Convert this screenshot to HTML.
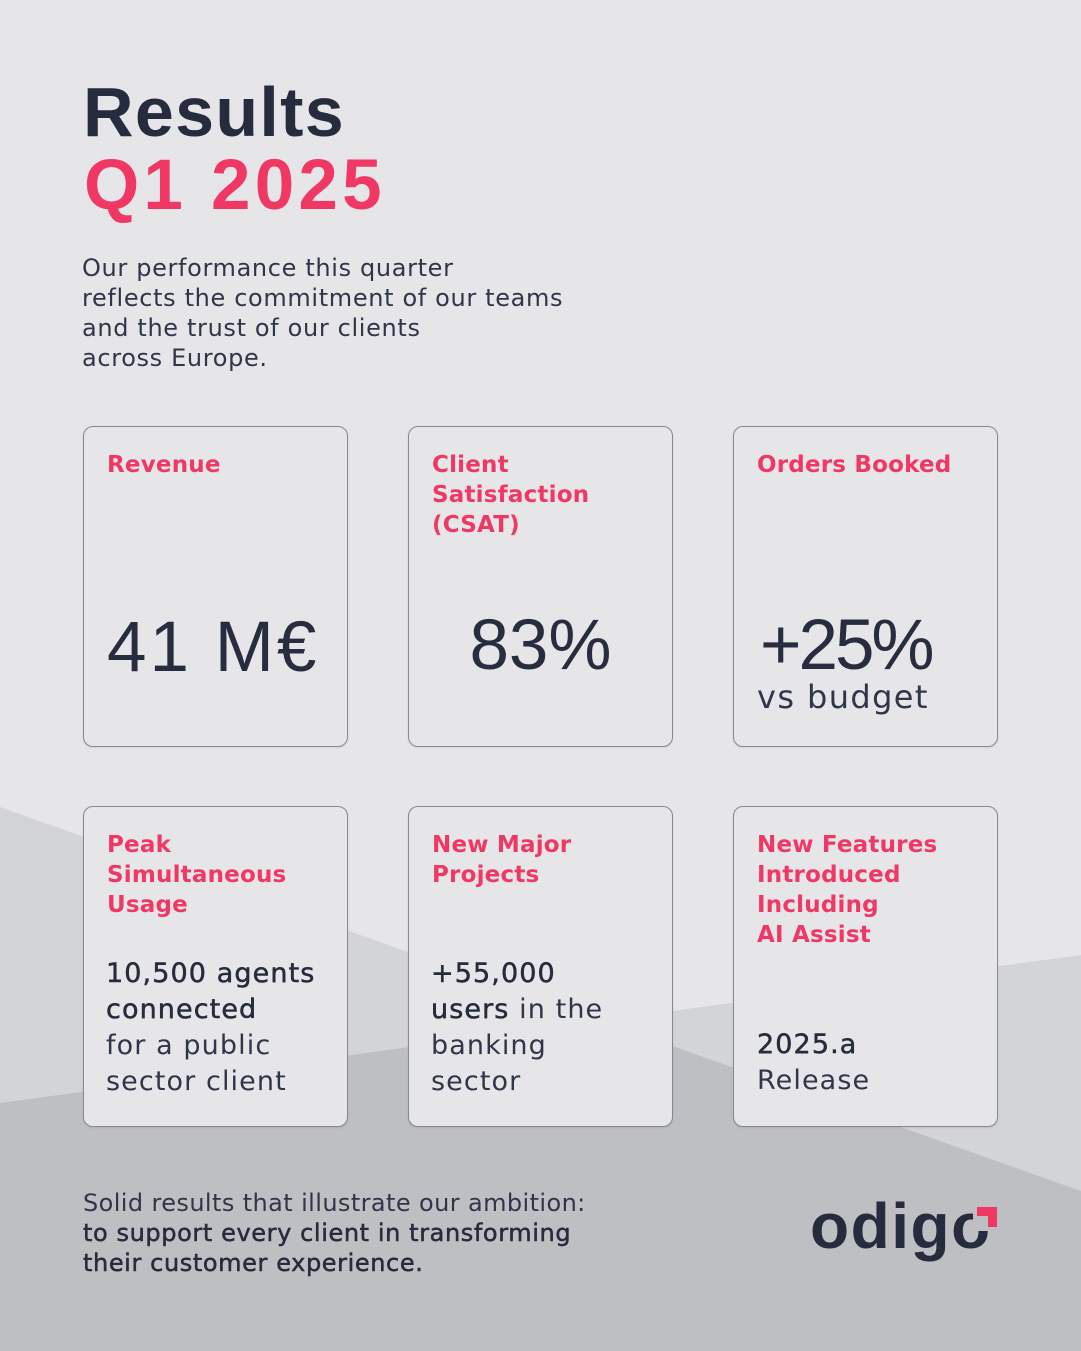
<!DOCTYPE html>
<html><head><meta charset="utf-8"><style>
*{margin:0;padding:0;box-sizing:border-box}
html,body{width:1081px;height:1351px;overflow:hidden;background:#e6e6e8}
body{position:relative;font-family:"DejaVu Sans","Liberation Sans",sans-serif;color:#262b3d}
.bg{position:absolute;left:0;top:0}
.a{position:absolute;white-space:nowrap}
.card{position:absolute;width:265px;height:321px;border:1px solid #858896;border-radius:10px;background:#e6e6e9;box-shadow:0 1px 2px rgba(0,0,0,0.08)}
.t{position:absolute;white-space:nowrap;font-family:"DejaVu Sans",sans-serif;font-weight:bold;font-size:23px;line-height:30px;color:#ef3864;letter-spacing:0.2px}
.big{position:absolute;white-space:nowrap;font-family:"Liberation Sans",sans-serif;font-size:71px;line-height:71px;color:#272c3e}
.v{position:absolute;white-space:nowrap;font-family:"DejaVu Sans",sans-serif;font-size:27px;line-height:36px;color:#30364a;letter-spacing:1.1px}
.m{-webkit-text-stroke:0.5px #262b3d;color:#262b3d}
.p{font-family:"DejaVu Sans",sans-serif;font-size:24px;line-height:30px;letter-spacing:0.65px;color:#30364a}
</style></head><body>
<svg class="bg" width="1081" height="1351" viewBox="0 0 1081 1351">
<rect x="0" y="0" width="1081" height="1351" fill="#e6e6e8"/>
<polygon points="0,807 601.4,1020.7 0,1103" fill="#d3d4d6"/>
<polygon points="601.4,1020.7 1081,955 1081,1191" fill="#d3d4d6"/>
<polygon points="0,1103 601.4,1020.7 1081,1191 1081,1351 0,1351" fill="#bebfc2"/>
</svg>

<div class="a" style="left:83px;top:77px;font-family:'Liberation Sans',sans-serif;font-weight:bold;font-size:70px;line-height:70px;color:#262b3d;letter-spacing:1.3px">Results</div>
<div class="a" style="left:84px;top:150px;font-family:'Liberation Sans',sans-serif;font-weight:bold;font-size:71px;line-height:71px;color:#ef3864;letter-spacing:4.2px">Q1 2025</div>

<div class="a p" style="left:82px;top:253px">Our performance this quarter<br>reflects the commitment of our teams<br>and the trust of our clients<br>across Europe.</div>

<!-- Row 1 -->
<div class="card" style="left:83px;top:426px"></div>
<div class="card" style="left:408px;top:426px"></div>
<div class="card" style="left:733px;top:426px"></div>

<div class="t" style="left:107px;top:450px">Revenue</div>
<div class="t" style="left:432px;top:450px">Client<br>Satisfaction<br>(CSAT)</div>
<div class="t" style="left:757px;top:450px">Orders Booked</div>

<div class="big" style="left:107px;top:612px;letter-spacing:3px">41 M€</div>
<div class="big" style="left:408px;width:265px;text-align:center;top:610px">83%</div>
<div class="big" style="left:760px;top:610px;letter-spacing:-3px">+25%</div>
<div class="a" style="left:757px;top:681px;font-family:'DejaVu Sans',sans-serif;font-size:32px;line-height:32px;color:#30364a;letter-spacing:1.4px">vs budget</div>

<!-- Row 2 -->
<div class="card" style="left:83px;top:806px"></div>
<div class="card" style="left:408px;top:806px"></div>
<div class="card" style="left:733px;top:806px"></div>

<div class="t" style="left:107px;top:830px">Peak<br>Simultaneous<br>Usage</div>
<div class="t" style="left:432px;top:830px">New Major<br>Projects</div>
<div class="t" style="left:757px;top:830px">New Features<br>Introduced<br>Including<br>AI Assist</div>

<div class="v" style="left:106px;top:956px"><span class="m">10,500 agents</span><br><span class="m">connected</span><br>for a public<br>sector client</div>
<div class="v" style="left:431px;top:956px"><span class="m">+55,000</span><br><span class="m">users</span> in the<br>banking<br>sector</div>
<div class="v" style="left:757px;top:1027px"><span class="m">2025.a</span><br>Release</div>

<!-- Footer -->
<div class="a p" style="left:83px;top:1188px;letter-spacing:0.4px">Solid results that illustrate our ambition:<br><span class="m" style="letter-spacing:0.6px">to support every client in transforming</span><br><span class="m" style="letter-spacing:0.6px">their customer experience.</span></div>

<!-- Logo -->
<div class="a" style="left:810px;top:1194px;font-family:'Liberation Sans',sans-serif;font-weight:bold;font-size:64px;line-height:64px;color:#262b3d;letter-spacing:1.5px">odigo</div>
<div class="a" style="left:973px;top:1203px;width:28px;height:28px;background:#bebfc2"></div>
<div class="a" style="left:977px;top:1207px;width:20px;height:9px;background:#ef3864"></div>
<div class="a" style="left:988px;top:1207px;width:9px;height:20px;background:#ef3864"></div>
</body></html>
